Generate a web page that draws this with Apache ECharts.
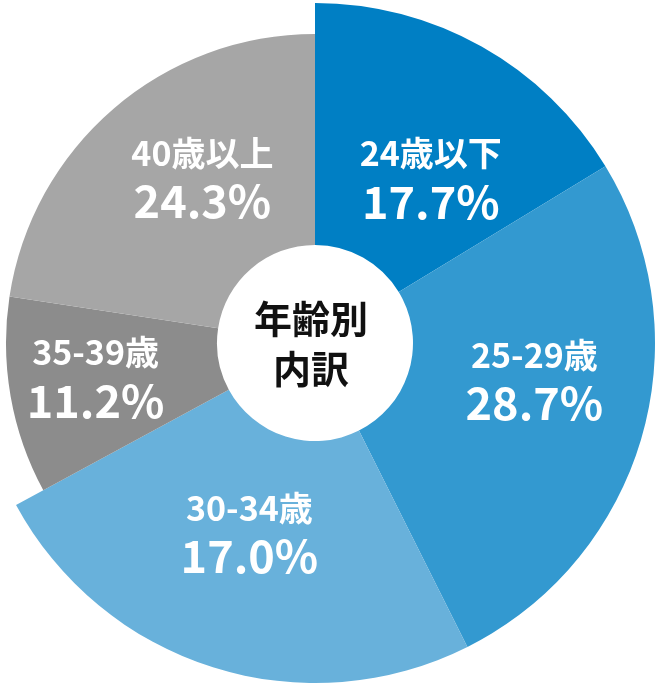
<!DOCTYPE html>
<html>
<head>
<meta charset="utf-8">
<script src="https://cdn.jsdelivr.net/npm/echarts@6/dist/echarts.min.js"></script>
<style>
html,body{margin:0;padding:0;background:#fff;}
#chart{width:661px;height:685px;}
</style>
</head>
<body>
<div id="chart"></div>
<script>
// Categories and their printed percentages
var categories = ['24歳以下', '25-29歳', '30-34歳', '35-39歳', '40歳以上'];
var labelPercents = ['17.7%', '28.7%', '17.0%', '11.2%', '24.3%'];
// Slice sizes as drawn in the picture (share of the full circle, %)
var sliceShares = [16.3, 26.3, 24.5, 10.3, 22.6];
// Which slices are drawn with the long radius (blue) vs short (gray)
var isLong = [true, true, true, false, false];
var colors = ['#007FC4', '#3399D0', '#68B1DB', '#8C8C8C', '#A6A6A6'];
// Label nudges from the default inside position
var labelNudge = [[7, 31], [6, -22], [1, -20], [-16, 1], [22, -6]];

var FONT = '"Noto Sans CJK JP", "Noto Sans", sans-serif';

function buildData(longSet) {
  return categories.map(function (c, i) {
    var show = (isLong[i] === longSet);
    return {
      name: c,
      value: sliceShares[i],
      itemStyle: { color: show ? colors[i] : 'rgba(0,0,0,0)' },
      label: { show: show }
    };
  });
}

var labelStyle = {
  position: 'inside',
  formatter: function (p) {
    return '{a|' + p.name + '}\n{b|' + labelPercents[p.dataIndex] + '}';
  },
  rich: {
    a: { color: '#fff', fontFamily: FONT, fontWeight: 'bold', fontSize: 34, lineHeight: 42 },
    b: { color: '#fff', fontFamily: FONT, fontWeight: 'bold', fontSize: 45, lineHeight: 54 }
  }
};

function layout(p) {
  var n = labelNudge[p.dataIndex];
  return { dx: n[0], dy: n[1] };
}

var chart = echarts.init(document.getElementById('chart'), null, { renderer: 'canvas' });
chart.setOption({
  backgroundColor: '#fff',
  animation: false,
  series: [
    {
      type: 'pie',
      center: [315, 343],
      radius: [98, 340],
      startAngle: 90,
      clockwise: true,
      avoidLabelOverlap: false,
      emphasis: { disabled: true },
      labelLine: { show: false },
      label: labelStyle,
      labelLayout: layout,
      data: buildData(true)
    },
    {
      type: 'pie',
      center: [315, 343],
      radius: [98, 309],
      startAngle: 90,
      clockwise: true,
      avoidLabelOverlap: false,
      emphasis: { disabled: true },
      labelLine: { show: false },
      label: labelStyle,
      labelLayout: layout,
      data: buildData(false)
    }
  ],
  graphic: [
    {
      type: 'text',
      x: 311,
      y: 344,
      style: {
        text: '年齢別\n内訳',
        fill: '#111',
        font: 'bold 38px "Noto Sans CJK JP", sans-serif',
        lineHeight: 50,
        align: 'center',
        verticalAlign: 'middle'
      }
    }
  ]
});
</script>
</body>
</html>
